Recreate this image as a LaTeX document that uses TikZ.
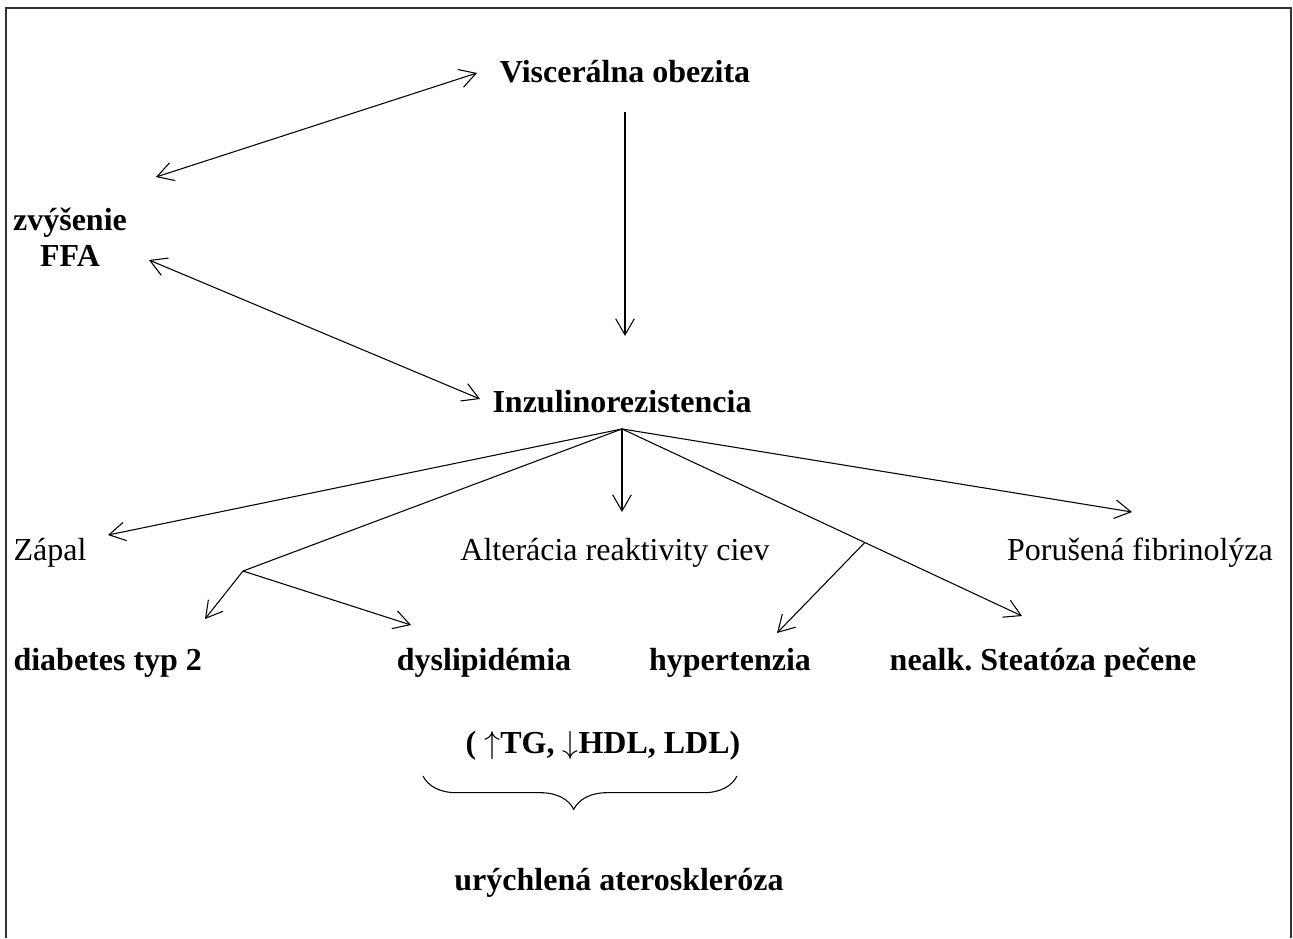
\documentclass[tikz,border=0pt]{standalone}
\usepackage{fontspec}
\setmainfont{Liberation Serif}
\usetikzlibrary{arrows.meta, calc, decorations.pathreplacing}
\frenchspacing

\begin{document}
\begin{tikzpicture}[x=0.375pt, y=-0.375pt,
  >={Straight Barb[angle=60:7pt]},
  every node/.style={inner sep=0pt, font=\fontsize{12pt}{13.5pt}\selectfont},
  term/.style={font=\fontsize{12pt}{13.5pt}\selectfont\bfseries},
  link/.style={line width=0.4pt}]
  \useasboundingbox (0,0) rectangle (1293,938);
  % Frame, open at the bottom
  \draw[line width=0.8pt, black!80] (6,938) -- (6,8) -- (1291,8) -- (1291,938);
  % Main terms
  \node[term, anchor=base] (visc) at (625,82) {Viscerálna obezita};
  \node[term, align=center] (ffa) at (70,237) {zvýšenie\\FFA};
  \node[term, anchor=base] (inz) at (622,412) {Inzulinorezistencia};
  % Consequences
  \node[anchor=base west] (zapal) at (13,560) {Zápal};
  \node[anchor=base] (alter) at (615,560) {Alterácia reaktivity ciev};
  \node[anchor=base] (fibr) at (1140,560) {Porušená fibrinolýza};
  \node[term, anchor=base west] (diab) at (13,670) {diabetes typ 2};
  \node[term, anchor=base] (dysl) at (484,670) {dyslipidémia};
  \node[term, anchor=base] (hyp) at (730,670) {hypertenzia};
  \node[term, anchor=base] (steat) at (1043,670) {nealk. Steatóza pečene};
  \node[term, anchor=base] (lipid) at (603,753) {( $\uparrow$TG, $\downarrow$HDL, LDL)};
  \node[term, anchor=base] (ather) at (619,890) {urýchlená ateroskleróza};
  % Arrow ends
  \coordinate (ffaup) at (156,177);
  \coordinate (viscin) at (477,73);
  \coordinate (ffalow) at (149,260);
  \coordinate (inzin) at (480,399);
  \coordinate (inzfoot) at ([yshift=-6pt]inz.south);
  \coordinate (zapaltip) at (108,535);
  \coordinate (dmfork) at (243,571);
  \coordinate (diabtip) at (205,619);
  \coordinate (dysltip) at (411,625);
  \coordinate (altertip) at (inzfoot |- 0,512);
  \coordinate (steattip) at (1022,616);
  \coordinate (htfork) at ($(inzfoot)!0.607!(steattip)$);
  \coordinate (hyptip) at (777,633);
  \coordinate (fibrtip) at (1132,512);
  % Links
  \draw[link, <->] (ffaup) -- (viscin);
  \draw[link, <->] (ffalow) -- (inzin);
  \draw[link, ->, shorten <=11pt, shorten >=20pt] (visc.south) -- (visc.south |- inz.north);
  \draw[link, ->] (inzfoot) -- (zapaltip);
  \draw[link] (inzfoot) -- (dmfork);
  \draw[link, ->] (dmfork) -- (diabtip);
  \draw[link, ->] (dmfork) -- (dysltip);
  \draw[link, ->] (inzfoot) -- (altertip);
  \draw[link, ->] (inzfoot) -- (steattip);
  \draw[link, ->] (htfork) -- (hyptip);
  \draw[link, ->] (inzfoot) -- (fibrtip);
  % Brace under the lipid values
  \coordinate (bracel) at (423,776);
  \coordinate (bracer) at (737,776);
  \draw[link, decorate, decoration={brace, mirror, amplitude=12.5pt, aspect=0.48}]
    (bracel) -- (bracer);
\end{tikzpicture}
\end{document}
